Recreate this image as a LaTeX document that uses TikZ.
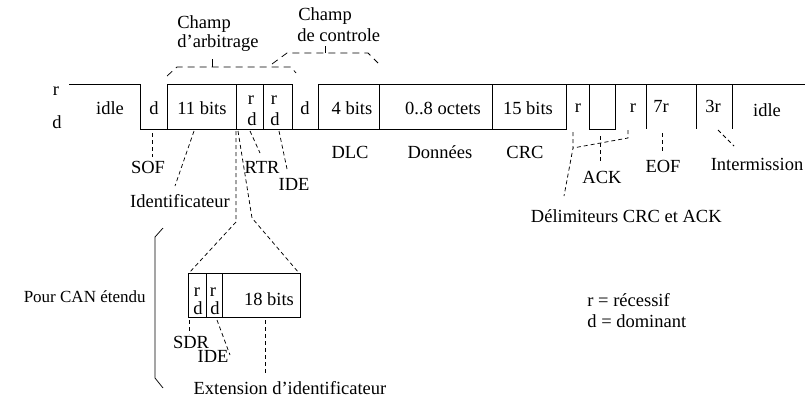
\documentclass[tikz,border=0pt]{standalone}
\usepackage{fontspec}
\setmainfont{Liberation Serif}
\begin{document}
\begin{tikzpicture}[x=1pt,y=-1pt,
  line width=0.8pt,
  lbl/.style={font=\fontsize{18.5}{21}\selectfont, inner sep=0pt, anchor=base},
  lblw/.style={lbl, anchor=base west},
  conn/.style={dash pattern=on 4pt off 3pt, line width=0.75pt},
  brace/.style={dash pattern=on 7pt off 5pt, line width=0.75pt},
]
\useasboundingbox (0,0) rectangle (805,399);

% ---------- signal ----------
\draw (69,84) -- (140,84) -- (140,129) -- (167,129) -- (167,84) -- (292,84) -- (292,129) -- (318,129) -- (318,84) -- (805,84);
\draw (140,129) -- (566,129) -- (566,84);
\foreach \x in {236,263,379,492} \draw (\x,84) -- (\x,129);
\draw (589,84) -- (589,129) -- (615,129) -- (615,84);
\foreach \x in {646,696,732} \draw (\x,84) -- (\x,129);

% level labels
\node[lbl] (lr) at (56,95) {r};
\node[lbl] (ld) at (57,128) {d};

% field texts
\node[lbl] (idle1) at (110,114) {idle};
\node[lbl] (sofd) at (154,114) {d};
\node[lbl] (id11) at (202,114) {11 bits};
\node[lbl] (rtrr) at (251,104) {r};
\node[lbl] (rtrd) at (252,125) {d};
\node[lbl] (ider) at (274,104) {r};
\node[lbl] (ided) at (275,125) {d};
\node[lbl] (r0d) at (305,114) {d};
\node[lbl] (dlc4) at (352,114) {4 bits};
\node[lbl] (data) at (443,114) {0..8 octets};
\node[lbl] (crc15) at (528,114) {15 bits};
\node[lbl] (crcr) at (578,112) {r};
\node[lbl] (ackr) at (633,112) {r};
\node[lbl] (eof7) at (661,112) {7r};
\node[lbl] (int3) at (713,112) {3r};
\node[lbl] (idle2) at (767,116) {idle};

% ---------- top braces ----------
\node[lblw] (champA) at (177,28) {Champ};
\node[lblw] (champB) at (177,47) {d'arbitrage};
\node[lblw] (champC) at (298,20) {Champ};
\node[lblw] (champD) at (297,41) {de controle};

\coordinate (a1) at (167,76);
\coordinate (a2) at (177,67);
\coordinate (a3) at (291,67);
\coordinate (a4) at (296,73);
\coordinate (at1) at (212,67);
\coordinate (at2) at (212,59);
\draw[brace] (a1) -- (a2) -- (a3) -- (a4);
\draw[line width=0.75pt] (at1) -- (at2);

\coordinate (c1) at (272,64);
\coordinate (c2) at (287,53);
\coordinate (c3) at (368,53);
\coordinate (c4) at (378,63);
\coordinate (ct1) at (325,53);
\coordinate (ct2) at (325,46);
\draw[brace] (c1) -- (c2) -- (c3) -- (c4);
\draw[line width=0.75pt] (ct1) -- (ct2);

% ---------- labels below ----------
\node[lbl] (sof) at (148,173) {SOF};
\coordinate (sofT) at (152,133);
\coordinate (sofB) at (152,157);
\draw[conn] (sofT) -- (sofB);

\node[lbl] (ident) at (180,207) {Identificateur};
\coordinate (idT) at (194,131);
\coordinate (idB) at (175,186);
\draw[conn] (idT) -- (idB);

\node[lbl] (rtr) at (262,173) {RTR};
\coordinate (rtrT) at (250,131);
\coordinate (rtrB) at (260,153);
\draw[conn] (rtrT) -- (rtrB);

\node[lbl] (ide) at (294,190) {IDE};
\coordinate (ideT) at (279,131);
\coordinate (ideB) at (287,169);
\draw[conn] (ideT) -- (ideB);

\node[lbl] (dlc) at (350,158) {DLC};
\node[lbl] (don) at (440,158) {Données};
\node[lbl] (crc) at (525,158) {CRC};

% delimiters
\coordinate (dc1) at (573,132);
\coordinate (dj) at (573,148);
\coordinate (da1) at (628,130);
\coordinate (da2) at (628,138);
\coordinate (dB) at (564,196);
\draw[conn] (dc1) -- (dj) -- (dB);
\draw[conn] (da1) -- (da2) -- (dj);
\node[lbl, anchor=base east] (delim) at (722,222) {Délimiteurs CRC et ACK};

\node[lbl] (ack) at (602,183) {ACK};
\coordinate (ackT) at (600,136);
\coordinate (ackB) at (600,161);
\draw[conn] (ackT) -- (ackB);

\node[lbl] (eof) at (663,172) {EOF};
\coordinate (eofT) at (662,133);
\coordinate (eofB) at (662,151);
\draw[conn] (eofT) -- (eofB);

\node[lbl] (inter) at (757,170) {Intermission};
\coordinate (inT) at (718,130);
\coordinate (inB) at (734,146);
\draw[conn] (inT) -- (inB);

% ---------- extended CAN ----------
\coordinate (xA0) at (236,131);
\coordinate (xA1) at (236,222);
\coordinate (xA2) at (189,273);
\coordinate (xB0) at (238,131);
\coordinate (xB1) at (252,218);
\coordinate (xB2) at (299,273);
\draw[conn] (xA0) -- (xA1) -- (xA2);
\draw[conn] (xB0) -- (xB1) -- (xB2);

\draw (188,273) rectangle (300,317);
\draw (206,273) -- (206,317);
\draw (222,273) -- (222,317);
\node[lbl] (sdrr) at (197,296) {r};
\node[lbl] (sdrd) at (198,314) {d};
\node[lbl] (ide2r) at (213,296) {r};
\node[lbl] (ide2d) at (215,314) {d};
\node[lbl] (b18) at (269,305) {18 bits};

\node[lbl] (sdr) at (191,348) {SDR};
\coordinate (sdrT) at (189,320);
\coordinate (sdrB) at (189,334);
\draw[conn] (sdrT) -- (sdrB);

\node[lbl] (ide2) at (213,362) {IDE};
\coordinate (ide2T) at (217,320);
\coordinate (ide2B) at (230,355);
\draw[conn] (ide2T) -- (ide2B);

\node[lbl] (ext) at (290,394) {Extension d'identificateur};
\coordinate (extT) at (265,320);
\coordinate (extB) at (265,374);
\draw[conn] (extT) -- (extB);

\node[lbl, anchor=base east, font=\fontsize{17}{20}\selectfont] (pour) at (146,302) {Pour CAN étendu};
\coordinate (br1) at (163,228);
\coordinate (br2) at (155,237);
\coordinate (br3) at (155,378);
\coordinate (br4) at (163,388);
\draw[line width=0.75pt] (br1) -- (br2) -- (br3) -- (br4);

% legend
\node[lblw] (leg1) at (587,306) {r = récessif};
\node[lblw] (leg2) at (587,327) {d = dominant};
\end{tikzpicture}
\end{document}
